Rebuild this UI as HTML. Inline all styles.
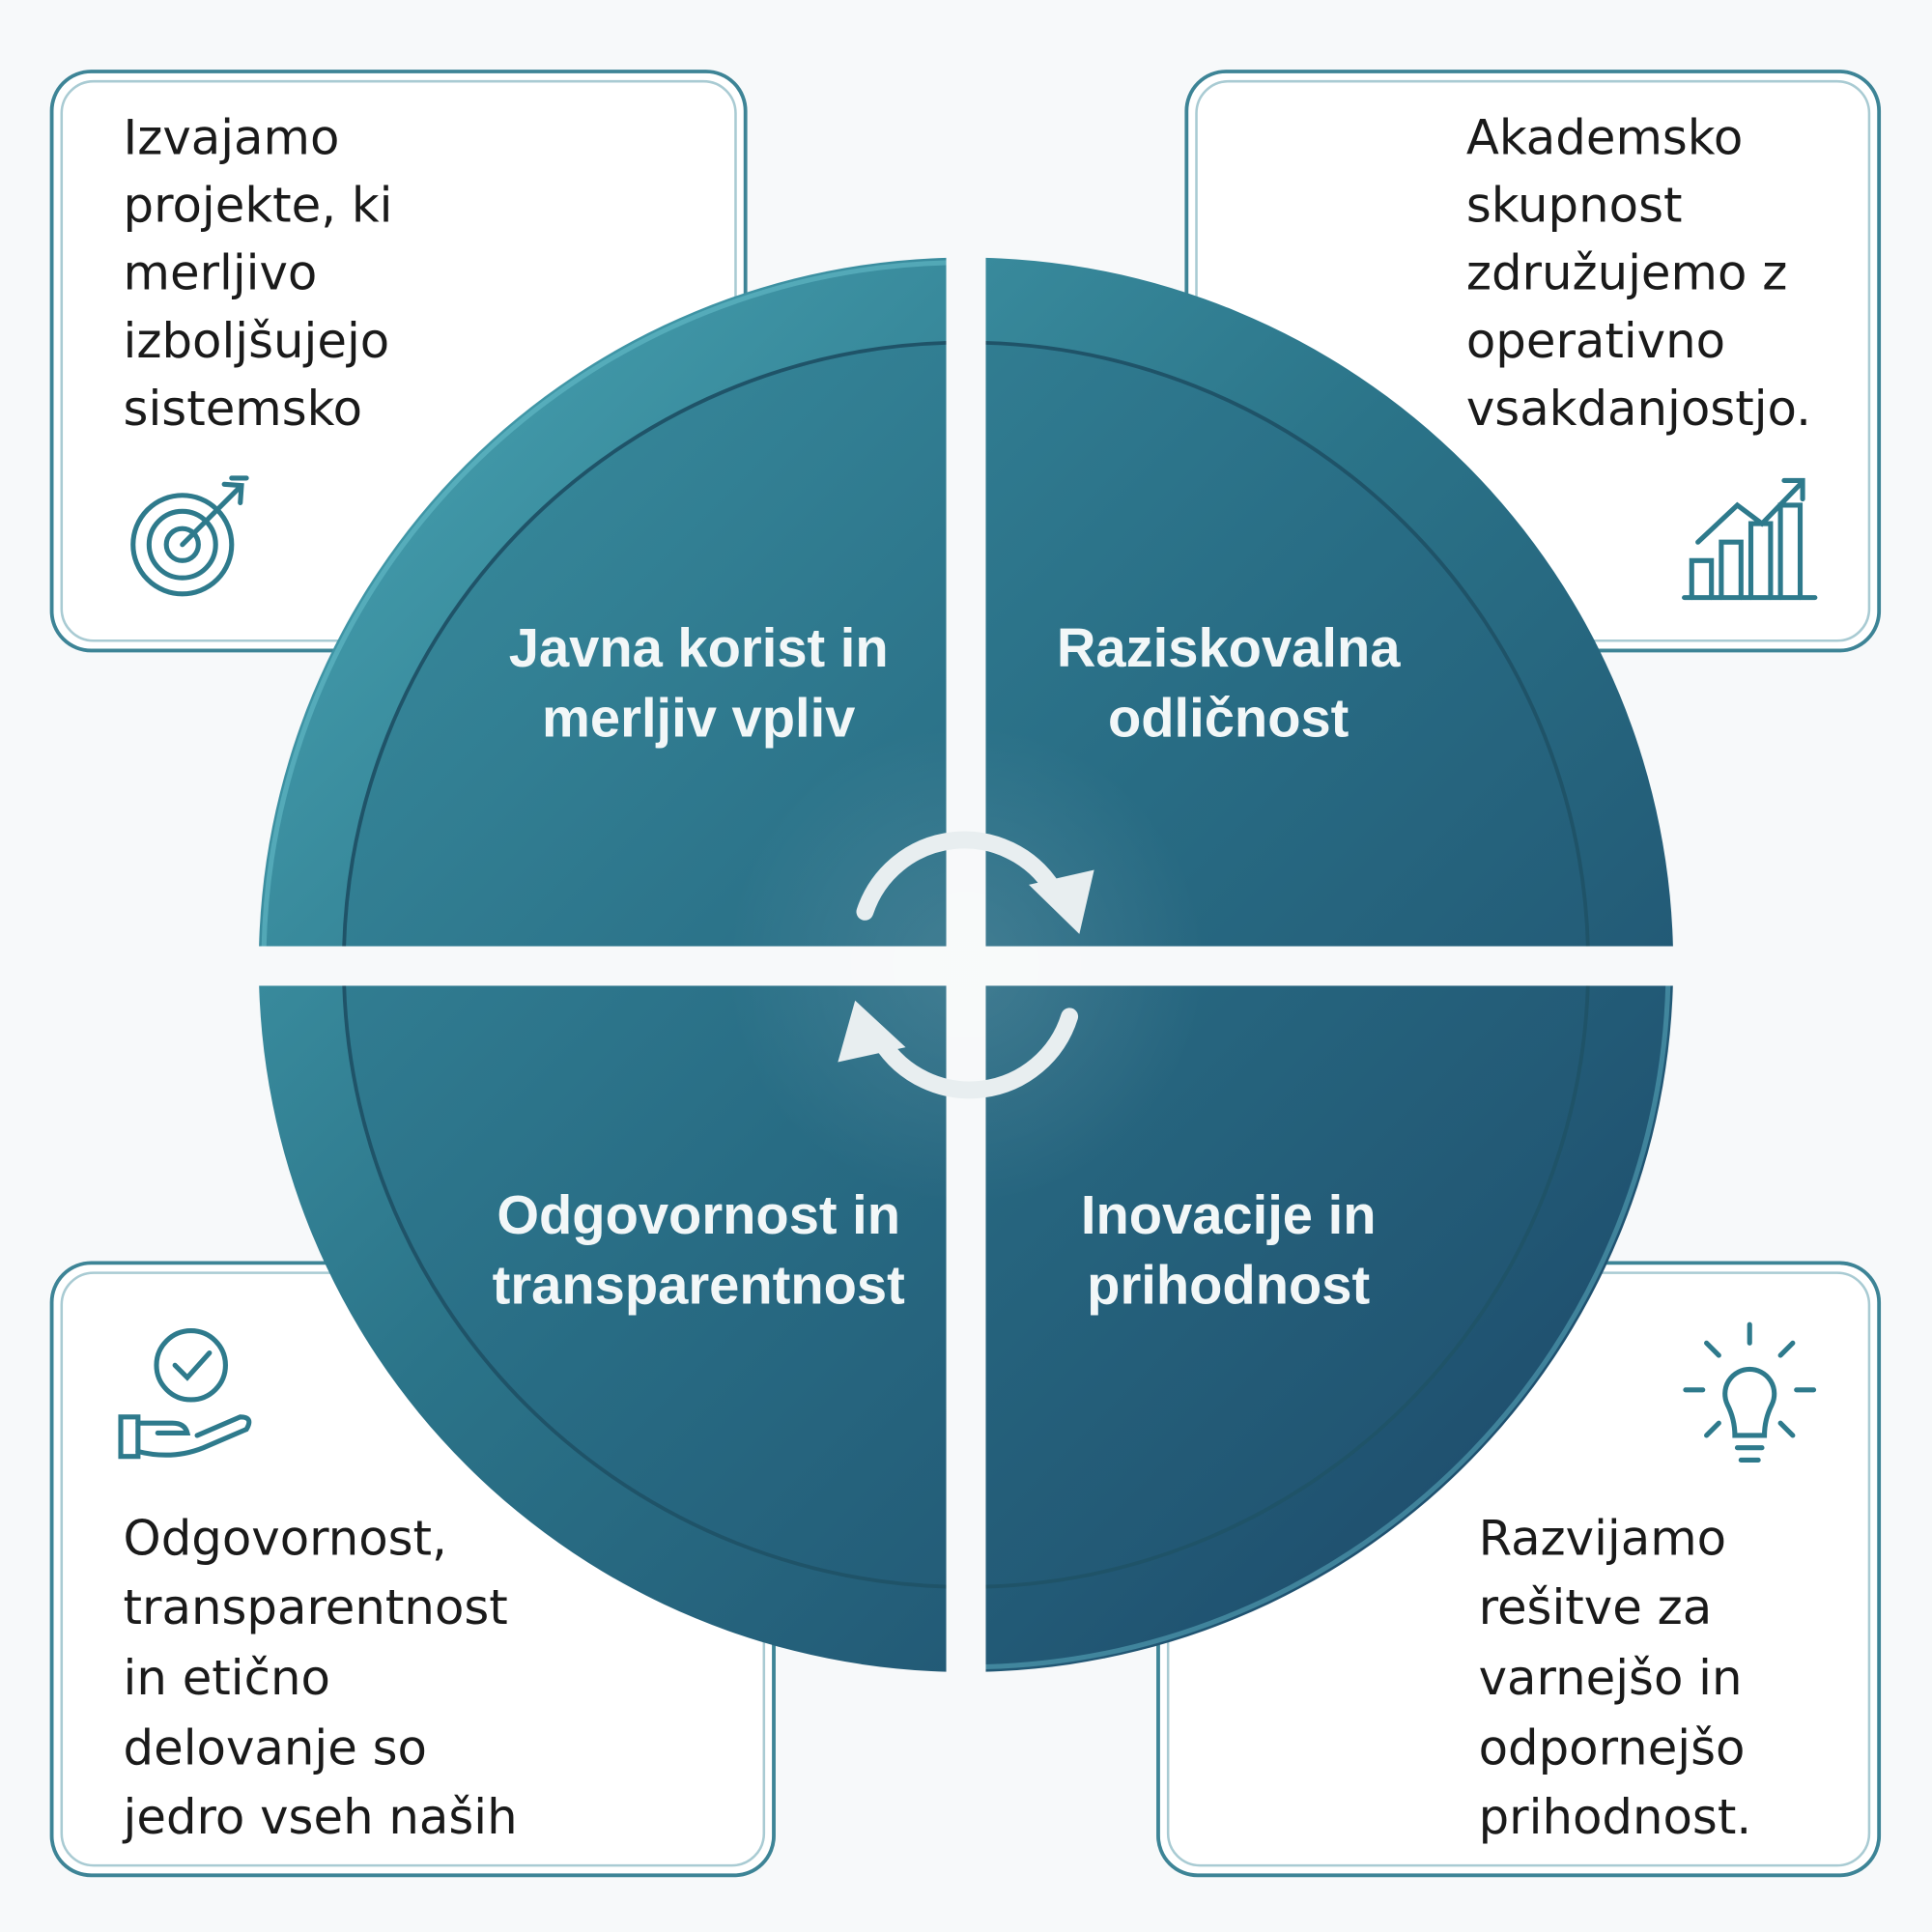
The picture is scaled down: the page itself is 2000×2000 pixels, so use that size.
<!DOCTYPE html>
<html><head><meta charset="utf-8"><style>
html,body{margin:0;padding:0;background:#f7f9fa;}
svg{display:block}
text{font-family:"Liberation Sans","DejaVu Sans",sans-serif;}
.bt{font-family:"DejaVu Sans","Liberation Sans",sans-serif;}
</style></head><body>
<svg width="2000" height="2000" viewBox="0 0 1568 1568" xmlns="http://www.w3.org/2000/svg">
<defs>
<linearGradient id="g" x1="0" y1="0" x2="1" y2="1">
<stop offset="0" stop-color="#4aa7b5"/><stop offset="0.45" stop-color="#2b7489"/><stop offset="1" stop-color="#1b4466"/>
</linearGradient>
<linearGradient id="gi" x1="0" y1="0" x2="1" y2="1">
<stop offset="0" stop-color="#3a8e9f"/><stop offset="0.5" stop-color="#286c84"/><stop offset="1" stop-color="#1f4d6c"/>
</linearGradient>
<clipPath id="tl"><rect x="0" y="0" width="768" height="768"/></clipPath>
<clipPath id="tr"><rect x="800" y="0" width="800" height="768"/></clipPath>
<clipPath id="bl"><rect x="0" y="800" width="768" height="800"/></clipPath>
<clipPath id="br"><rect x="800" y="800" width="800" height="800"/></clipPath>
<radialGradient id="cg" cx="0.5" cy="0.5" r="0.5"><stop offset="0" stop-color="#ffffff" stop-opacity="0.12"/><stop offset="1" stop-color="#ffffff" stop-opacity="0"/></radialGradient>
</defs>
<rect width="1568" height="1568" fill="#f7f9fa"/>
<g fill="#fff" stroke="#3d8496" stroke-width="3">
<rect x="42" y="58" width="563" height="470" rx="32"/>
<rect x="963" y="58" width="562" height="470" rx="32"/>
<rect x="42" y="1025" width="586" height="497" rx="32"/>
<rect x="940" y="1025" width="585" height="497" rx="32"/>
</g>
<g fill="none" stroke="#a9cbd3" stroke-width="2">
<rect x="50" y="66" width="547" height="454" rx="26"/>
<rect x="971" y="66" width="546" height="454" rx="26"/>
<rect x="50" y="1033" width="570" height="481" rx="26"/>
<rect x="948" y="1033" width="569" height="481" rx="26"/>
</g>
<g font-size="39" fill="#1a1a1a" class="bt">
<text class="bt" x="100" y="125">Izvajamo</text><text class="bt" x="100" y="180">projekte, ki</text><text class="bt" x="100" y="235">merljivo</text><text class="bt" x="100" y="290">izboljšujejo</text><text class="bt" x="100" y="345">sistemsko</text>
<text class="bt" x="1190" y="125">Akademsko</text><text class="bt" x="1190" y="180">skupnost</text><text class="bt" x="1190" y="235">združujemo z</text><text class="bt" x="1190" y="290">operativno</text><text class="bt" x="1190" y="345">vsakdanjostjo.</text>
<text class="bt" x="100" y="1262">Odgovornost,</text><text class="bt" x="100" y="1318">transparentnost</text><text class="bt" x="100" y="1375">in etično</text><text class="bt" x="100" y="1432">delovanje so</text><text class="bt" x="100" y="1488">jedro vseh naših</text>
<text class="bt" x="1200" y="1262">Razvijamo</text><text class="bt" x="1200" y="1318">rešitve za</text><text class="bt" x="1200" y="1375">varnejšo in</text><text class="bt" x="1200" y="1432">odpornejšo</text><text class="bt" x="1200" y="1488">prihodnost.</text>
</g>
<g fill="none" stroke="#2e7a8c" stroke-width="4" stroke-linecap="round">
<circle cx="148" cy="442" r="40"/><circle cx="148" cy="442" r="27"/><circle cx="148" cy="442" r="13"/>
<line x1="148" y1="442" x2="195" y2="395"/><path d="M182 393 L196 394 L195 408"/><path d="M188 388 L200 388"/>
<path d="M1367 485 H1473"/><path d="M1373 485 V455 H1389 V485 M1397 485 V440 H1413 V485 M1421 485 V425 H1437 V485 M1445 485 V410 H1461 V485"/>
<path d="M1378 440 L1410 410 L1430 425 L1462 392"/><path d="M1448 390 L1463 390 L1463 405"/>
<circle cx="155" cy="1108" r="28"/><path d="M142 1108 L152 1118 L170 1098"/>
<path d="M98 1150 V1182 H112 V1150 Z"/><path d="M112 1155 H140 Q150 1155 152 1163 H128"/><path d="M112 1178 Q140 1185 165 1175 L200 1160 Q206 1150 195 1150 L160 1165"/>
<path d="M1402 1140 A20 20 0 1 1 1438 1140 Q1432 1152 1432 1165 H1408 Q1408 1152 1402 1140Z"/><path d="M1410 1175 H1430 M1413 1185 H1427"/>
<path d="M1420 1075 V1090 M1385 1090 L1395 1100 M1455 1090 L1445 1100 M1368 1128 H1382 M1458 1128 H1472 M1385 1165 L1395 1155 M1455 1165 L1445 1155"/>
</g>
<g>
<g clip-path="url(#tl)"><circle cx="784" cy="783" r="574" fill="url(#g)"/><circle cx="784" cy="783" r="570" fill="none" stroke="#6cc3cf" stroke-opacity="0.5" stroke-width="4"/><circle cx="784" cy="783" r="505" fill="url(#gi)" stroke="#1f5368" stroke-width="3"/></g>
<g clip-path="url(#tr)"><circle cx="784" cy="783" r="574" fill="url(#g)"/><circle cx="784" cy="783" r="505" fill="url(#gi)" stroke="#1f5368" stroke-width="3"/></g>
<g clip-path="url(#bl)"><circle cx="784" cy="783" r="574" fill="url(#g)"/><circle cx="784" cy="783" r="505" fill="url(#gi)" stroke="#1f5368" stroke-width="3"/></g>
<g clip-path="url(#br)"><circle cx="784" cy="783" r="574" fill="url(#g)"/><circle cx="784" cy="783" r="570" fill="none" stroke="#5fb3c5" stroke-opacity="0.5" stroke-width="4"/><circle cx="784" cy="783" r="505" fill="url(#gi)" stroke="#1f5368" stroke-width="3"/></g>
<rect x="768" y="150" width="32" height="1250" fill="#f7f9fa"/>
<rect x="150" y="768" width="1270" height="32" fill="#f7f9fa"/>
<circle cx="784" cy="783" r="195" fill="url(#cg)"/>
</g>
<g font-size="44" font-weight="bold" fill="#f2f7f8" text-anchor="middle">
<text x="567" y="541">Javna korist in</text><text x="567" y="598">merljiv vpliv</text>
<text x="997" y="541">Raziskovalna</text><text x="997" y="598">odličnost</text>
<text x="567" y="1001">Odgovornost in</text><text x="567" y="1058">transparentnost</text>
<text x="997" y="1001">Inovacije in</text><text x="997" y="1058">prihodnost</text>
</g>
<g fill="none" stroke="#e8eef0" stroke-width="14" stroke-linecap="round">
<path d="M702 740 A85 85 0 0 1 855 722"/>
<path d="M868 825 A85 85 0 0 1 715 845"/>
</g>
<g fill="#e8eef0">
<polygon points="835,718 888,706 876,758"/>
<polygon points="735,850 680,862 694,812"/>
</g>
</svg>
</body></html>
